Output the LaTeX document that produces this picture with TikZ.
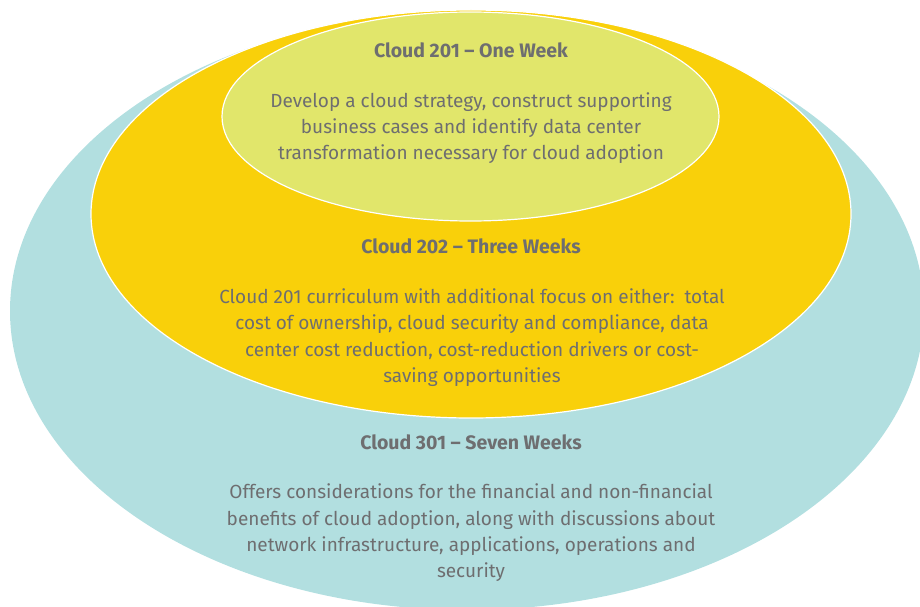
\documentclass[tikz,border=0pt]{standalone}
\usepackage{fontspec}
\setmainfont{Fira Sans}
\definecolor{teal}{HTML}{B2DFE0}
\definecolor{gold}{HTML}{F9D00A}
\definecolor{lime}{HTML}{E1E66B}
\definecolor{txt}{HTML}{6E6E70}
\begin{document}
\begin{tikzpicture}[x=1pt,y=-1pt,
  ring/.style={draw=white,line width=1.2pt},
  title/.style={text=txt,font=\fontsize{19.5}{22}\selectfont\bfseries,inner sep=0pt},
  body/.style={text=txt,font=\fontsize{19}{26.3}\selectfont,align=center,inner sep=0pt}]
\useasboundingbox (0,0) rectangle (920,607);
\clip (0,0) rectangle (920,607);
\fill[teal] (467,311) ellipse [x radius=457pt, y radius=299pt];
\path[ring,fill=gold] (471,214) ellipse [x radius=380pt, y radius=204pt];
\path[ring,fill=lime] (470.5,116.5) ellipse [x radius=248.5pt, y radius=104.5pt];
\node[title] (t201) at (471,50) {Cloud 201 -- One Week};
\node[body] (b201) at (471,128) {Develop a cloud strategy, construct supporting\\business cases and identify data center\\transformation necessary for cloud adoption};
\node[title] (t202) at (471,246) {Cloud 202 -- Three Weeks};
\node[body] (b202) at (472,337.5) {Cloud 201 curriculum with additional focus on either:\ \ total\\cost of ownership, cloud security and compliance, data\\center cost reduction, cost-reduction drivers or cost-\\saving opportunities};
\node[title] (t301) at (471,442) {Cloud 301 -- Seven Weeks};
\node[body] (b301) at (471,533) {Offers considerations for the financial and non-financial\\benefits of cloud adoption, along with discussions about\\network infrastructure, applications, operations and\\security};
\end{tikzpicture}
\end{document}
